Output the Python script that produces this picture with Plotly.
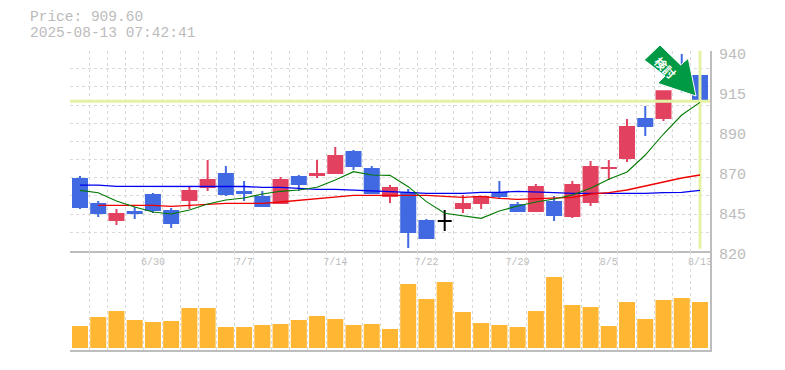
import plotly.graph_objects as go

# ---- data -------------------------------------------------------------
idx = list(range(35))
opens = [862.9, 847.9, 838.3, 843.1, 853.3, 843.7, 850.3, 858.1, 865.9, 855.1, 852.1, 848.5,
         864.1, 865.3, 866.5, 879.1, 868.9, 852.7, 854.5, 837.7, 837.7, 845.5, 848.5, 854.5,
         847.3, 843.7, 849.1, 840.7, 849.1, 869.5, 875.5, 898.9, 899.5, 928.3, 924.7]
highs = [864.7, 849.7, 844.9, 846.1, 854.5, 845.5, 858.7, 874.3, 870.7, 861.7, 855.7, 864.1,
         865.3, 874.3, 882.1, 880.3, 870.7, 859.3, 856.9, 838.9, 844.3, 853.3, 852.7, 861.7,
         849.1, 859.9, 852.7, 861.7, 873.7, 874.3, 898.9, 906.7, 915.5, 937.9, 926.5]
lows = [844.9, 840.1, 835.3, 838.9, 842.5, 833.5, 844.9, 855.7, 852.7, 849.7, 846.1, 847.9,
        855.7, 863.5, 865.9, 868.3, 853.9, 848.5, 821.5, 826.9, 831.7, 842.5, 844.9, 850.9,
        843.1, 843.1, 837.7, 839.5, 846.7, 862.3, 873.1, 888.7, 897.7, 915.0, 906.1]
closes = [846.1, 842.5, 841.9, 842.5, 844.3, 836.5, 855.7, 862.3, 853.9, 854.5, 846.7, 862.3,
          859.9, 865.9, 876.7, 870.7, 854.5, 857.5, 831.1, 827.5, 837.7, 847.9, 852.1, 852.7,
          843.7, 858.1, 841.3, 859.3, 870.1, 869.51, 894.1, 894.7, 915.5, 917.5, 910.3]
ma_short = [856.1, 854.7, 849.7, 846.1, 843.1, 841.9, 844.3, 847.9, 850.3, 851.5, 853.9, 855.5,
            856.3, 857.9, 862.3, 867.3, 865.3, 865.1, 858.3, 849.3, 842.3, 840.7, 839.3, 843.7,
            846.7, 849.1, 850.9, 853.3, 857.3, 862.7, 867.1, 877.3, 889.9, 901.3, 908.9]
ma_mid = [None, 847.1, 847.1, 847.1, 847.1, 846.5, 847.1, 847.7, 848.3, 848.3, 848.3, 849.1,
          850.1, 850.9, 851.9, 853.1, 853.1, 853.1, 853.1, 853.1, 852.5, 851.9, 852.5, 851.3,
          850.7, 851.1, 851.3, 851.9, 853.9, 854.7, 856.3, 858.7, 861.1, 863.5, 865.3]
ma_long = [859.2, 859.2, 858.5, 858.5, 858.5, 858.5, 858.5, 858.7, 858.5, 858.4, 857.9, 857.9,
           857.3, 856.7, 856.7, 856.1, 855.7, 855.3, 854.9, 854.3, 854.3, 854.3, 854.9, 854.9,
           855.5, 854.9, 854.7, 854.3, 854.3, 854.2, 854.2, 854.3, 854.7, 854.9, 856.1]
volumes = [22, 31, 37, 28, 26, 27, 40, 40, 21, 21, 23, 24, 28, 32, 29, 23, 24, 19,
           64, 49, 66, 36, 25, 23, 21, 37, 71, 43, 41, 22, 46, 29, 48, 50, 46]
date_pos = [4, 9, 14, 19, 24, 29, 34]
date_labels = ["6/30", "7/7", "7/14", "7/22", "7/29", "8/5", "8/13"]
price_ticks = [940, 916, 892, 868, 844, 820]
price_labels = ["940", "915", "890", "870", "845", "820"]
price_grid = [820 + k * 120 / 11 for k in range(12)]
last_price = 909.6
last_index = 34
doji_index = 20
title_lines = ["Price: 909.60", "2025-08-13 07:42:41"]
stamp_text = "検討"

# ---- styles -----------------------------------------------------------
W, H = 785, 370
RED, BLUE, GRID, AXIS, TXT = "#E2415F", "#4169E1", "#D9D9D9", "#BDBDBD", "#BBBBBB"
HILITE = "#E4F3A3"
MONO = "Liberation Mono, monospace"
X_RANGE = [-0.548, 34.55]


def px(x):
    return x / W


def py(y):
    return 1 - y / H


main_i = [i for i in idx if i != doji_index]
fig = go.Figure()
fig.add_trace(go.Scatter(x=X_RANGE, y=[last_price] * 2, mode="lines",
                         line=dict(color=HILITE, width=3), hoverinfo="skip"))
fig.add_trace(go.Scatter(x=[last_index, last_index], y=[821, 940], mode="lines",
                         line=dict(color=HILITE, width=3), hoverinfo="skip"))
fig.add_trace(go.Scatter(x=idx, y=ma_long, mode="lines", line=dict(color="#0000EE", width=1.3)))
fig.add_trace(go.Scatter(x=idx, y=ma_mid, mode="lines", line=dict(color="#EE0000", width=1.3)))
fig.add_trace(go.Scatter(x=idx, y=ma_short, mode="lines", line=dict(color="#007A00", width=1.1)))
fig.add_trace(go.Candlestick(
    x=main_i,
    open=[opens[i] for i in main_i], high=[highs[i] for i in main_i],
    low=[lows[i] for i in main_i], close=[closes[i] for i in main_i],
    increasing=dict(line=dict(color=RED, width=2), fillcolor=RED),
    decreasing=dict(line=dict(color=BLUE, width=2), fillcolor=BLUE),
    whiskerwidth=0,
))
fig.add_trace(go.Candlestick(
    x=[doji_index], open=[opens[doji_index]], high=[highs[doji_index]],
    low=[lows[doji_index]], close=[closes[doji_index]],
    increasing=dict(line=dict(color="#000000", width=2), fillcolor="#000000"),
    decreasing=dict(line=dict(color="#000000", width=2), fillcolor="#000000"),
    whiskerwidth=0,
))
fig.add_trace(go.Bar(x=idx, y=volumes, marker=dict(color="#FFB733", line=dict(width=0)),
                     width=0.877, xaxis="x2", yaxis="y2"))

# arrow stamp, placed in page pixels like the image it stands for
arrow = [(660, 45), (680.7, 65), (688.3, 58.3), (696, 96), (657.7, 83.3), (665, 76), (644.3, 60)]
path = "M" + " L".join(f"{px(a):.5f},{py(b):.5f}" for a, b in arrow) + " Z"

fig.update_layout(
    width=W, height=H, margin=dict(l=0, r=0, t=0, b=0), autosize=False,
    paper_bgcolor="white", plot_bgcolor="white", showlegend=False,
    boxgap=0.232, boxgroupgap=0,
    font=dict(family=MONO, color=TXT),
    xaxis=dict(
        domain=[px(70), px(710)], range=X_RANGE, anchor="y",
        tickmode="array", tickvals=date_pos, ticktext=date_labels,
        tickfont=dict(size=10, color=TXT), ticklen=0, showgrid=False, zeroline=False,
        showline=True, linecolor=AXIS, linewidth=2, rangeslider=dict(visible=False), automargin=False,
        minor=dict(tickmode="array", tickvals=[i - 0.5 for i in range(35)], showgrid=True,
                   gridcolor=GRID, griddash="3px,3px", gridwidth=1, ticklen=0),
    ),
    yaxis=dict(
        domain=[py(250.5), py(50.5)], range=[820, 940], side="right", anchor="x",
        tickmode="array", tickvals=price_ticks, ticktext=price_labels,
        tickfont=dict(size=15, color=TXT), ticklen=0, showgrid=False, zeroline=False,
        ticklabelstandoff=4, ticklabelshift=3, automargin=False,
        showline=True, linecolor=AXIS, linewidth=2,
        minor=dict(tickmode="array", tickvals=price_grid, showgrid=True,
                   gridcolor=GRID, griddash="3px,3px", gridwidth=1, ticklen=0),
    ),
    xaxis2=dict(
        domain=[px(70), px(710)], range=X_RANGE, anchor="y2", showticklabels=False, ticklen=0,
        showgrid=False, zeroline=False, showline=True, linecolor=AXIS, linewidth=2, automargin=False,
        minor=dict(tickmode="array", tickvals=[i - 0.5 for i in range(35)], showgrid=True,
                   gridcolor=GRID, griddash="3px,3px", gridwidth=1, ticklen=0),
    ),
    yaxis2=dict(
        domain=[py(350), py(251)], range=[-2, 97], side="right", anchor="x2",
        showticklabels=False, showgrid=False, zeroline=False, ticklen=0,
        showline=True, linecolor=AXIS, linewidth=2, automargin=False,
    ),
    shapes=[dict(type="path", xref="paper", yref="paper", path=path,
                 fillcolor="#009A44", line=dict(color="white", width=1), layer="above")],
    annotations=[
        dict(xref="paper", yref="paper", x=px(28), y=py(17), text=title_lines[0], showarrow=False,
             xanchor="left", yanchor="middle", font=dict(size=14.5, color=TXT, family=MONO)),
        dict(xref="paper", yref="paper", x=px(28), y=py(33.5), text=title_lines[1], showarrow=False,
             xanchor="left", yanchor="middle", font=dict(size=14.5, color=TXT, family=MONO)),
        dict(xref="paper", yref="paper", x=px(666), y=py(67), text=f"<b>{stamp_text}</b>", showarrow=False,
             xanchor="center", yanchor="middle", textangle=45,
             font=dict(size=12, color="white", family="Noto Sans CJK JP")),
    ],
)
fig.write_html("out.html", config=dict(displayModeBar=False),
               post_script="document.body.style.margin='0';")
